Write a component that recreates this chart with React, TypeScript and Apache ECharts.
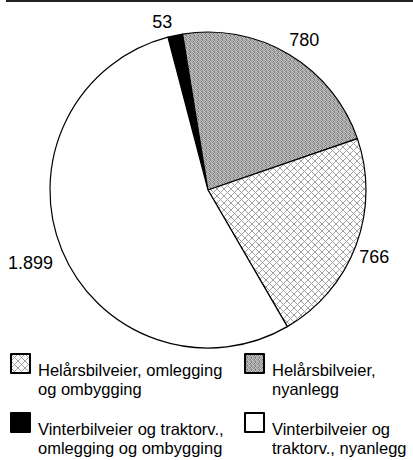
import React, { useEffect, useRef } from "react";
import * as echarts from "echarts";

const categories = [
  "Vinterbilveier og traktorv., omlegging og ombygging",
  "Helårsbilveier, nyanlegg",
  "Helårsbilveier, omlegging og ombygging",
  "Vinterbilveier og traktorv., nyanlegg",
];
const values = [53, 780, 766, 1899];
const valueLabels = ["53", "780", "766", "1.899"];
const legendLines = [
  ["Vinterbilveier og traktorv.,", "omlegging og ombygging"],
  ["Helårsbilveier,", "nyanlegg"],
  ["Helårsbilveier, omlegging", "og ombygging"],
  ["Vinterbilveier og", "traktorv., nyanlegg"],
];

const FONT = "'Liberation Sans', Arial, Helvetica, sans-serif";

function makePattern(size: number, draw: (ctx: CanvasRenderingContext2D) => void) {
  const c = document.createElement("canvas");
  c.width = size;
  c.height = size;
  const ctx = c.getContext("2d")!;
  draw(ctx);
  return { image: c.toDataURL(), repeat: "repeat", imageWidth: size, imageHeight: size };
}

export default function App() {
  const ref = useRef<HTMLDivElement>(null);
  useEffect(() => {
    if (!ref.current) return;
    const chart = echarts.init(ref.current, null, { renderer: "svg" });

    const cross = makePattern(7, (ctx) => {
      ctx.fillStyle = "#ffffff";
      ctx.fillRect(0, 0, 7, 7);
      ctx.fillStyle = "#a2a2a2";
      for (let i = 0; i < 7; i++) {
        ctx.fillRect(i, i, 1, 1);
        ctx.fillRect(6 - i, i, 1, 1);
      }
    });
    const grays = [
      ["#9a9a9a", "#c4c4c4", "#8a8a8a", "#b8b8b8"],
      ["#bcbcbc", "#6e6e6e", "#c8c8c8", "#949494"],
      ["#8c8c8c", "#b4b4b4", "#a0a0a0", "#c0c0c0"],
      ["#c6c6c6", "#989898", "#7c7c7c", "#b0b0b0"],
    ];
    const gray = makePattern(4, (ctx) => {
      for (let y = 0; y < 4; y++)
        for (let x = 0; x < 4; x++) {
          ctx.fillStyle = grays[y][x];
          ctx.fillRect(x, y, 1, 1);
        }
    });

    const fills: any[] = ["#000000", gray, cross, "#ffffff"];
    const legendPos = [
      { left: 10, iconTop: 412 },
      { left: 244, iconTop: 353 },
      { left: 10, iconTop: 353 },
      { left: 244, iconTop: 412 },
    ];
    const labelNudge = [
      [0, 0],
      [-7, -2],
      [-10, 7],
      [4, 7],
    ];

    // rich text: an invisible spacer line + two text lines, so the first line sits beside the icon
    const legends = categories.map((name, i) => ({
      data: [name],
      left: legendPos[i].left,
      top: legendPos[i].iconTop - 9.5,
      orient: "vertical",
      padding: 0,
      itemWidth: 19,
      itemHeight: 19,
      icon: "rect",
      selectedMode: false,
      formatter: () => `{s| }\n{t|${legendLines[i][0]}}\n{t|${legendLines[i][1]}}`,
      textStyle: {
        fontFamily: FONT,
        fontSize: 16.5,
        color: "#000",
        rich: {
          s: { fontSize: 2, lineHeight: 32 },
          t: {
            fontFamily: FONT,
            fontSize: 16.5,
            lineHeight: 19,
            color: "#000",
            padding: [0, 0, 0, 3],
          },
        },
      },
    }));

    chart.setOption({
      animation: false,
      backgroundColor: "#ffffff",
      legend: legends,
      graphic: [
        {
          type: "line",
          shape: { x1: 6, y1: 1, x2: 413, y2: 1 },
          style: { stroke: "#222", lineWidth: 2 },
          silent: true,
        },
      ],
      series: [
        {
          type: "pie",
          center: [208, 190],
          radius: 158,
          startAngle: 104.7,
          clockwise: true,
          avoidLabelOverlap: false,
          silent: true,
          emphasis: { disabled: true },
          itemStyle: { borderColor: "#000", borderWidth: 1.2 },
          label: {
            show: true,
            position: "outside",
            fontFamily: FONT,
            fontSize: 18,
            color: "#000",
            distanceToLabelLine: 0,
            formatter: (p: any) => valueLabels[p.dataIndex],
          },
          labelLine: { show: false, length: 14, length2: 0 },
          labelLayout: (p: any) => ({
            dx: labelNudge[p.dataIndex][0],
            dy: labelNudge[p.dataIndex][1],
          }),
          data: categories.map((name, i) => ({
            name,
            value: values[i],
            itemStyle: { color: fills[i] },
          })),
        },
      ],
    });
    return () => chart.dispose();
  }, []);
  return (
    <div
      ref={ref}
      style={{ position: "fixed", left: 0, top: 0, width: 413, height: 460, background: "#fff" }}
    />
  );
}
